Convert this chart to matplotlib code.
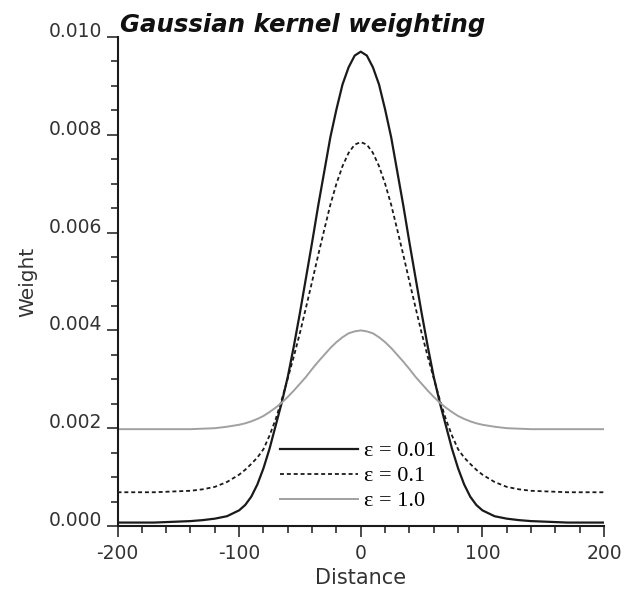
import matplotlib
matplotlib.use("Agg")
import matplotlib.pyplot as plt
from matplotlib.ticker import MultipleLocator, FormatStrFormatter

# values
distance = [-200, -190, -180, -170, -160, -150, -140, -130, -120, -110,
            -100, -95, -90, -85, -80, -75, -70, -65, -60, -55,
            -50, -45, -40, -35, -30, -25, -20, -15, -10, -5,
            0,
            5, 10, 15, 20, 25, 30, 35, 40, 45, 50,
            55, 60, 65, 70, 75, 80, 85, 90, 95, 100,
            110, 120, 130, 140, 150, 160, 170, 180, 190, 200]

weight_eps001 = [0.00007, 0.00007, 0.00007, 0.00007, 0.00008, 0.00009, 0.00010, 0.00012, 0.00015, 0.00020,
                 0.00032, 0.00043, 0.00060, 0.00085, 0.00118, 0.00158, 0.00205, 0.00252, 0.00305, 0.00368,
                 0.00436, 0.00508, 0.00580, 0.00655, 0.00725, 0.00795, 0.00852, 0.00903, 0.00938, 0.00962,
                 0.00970,
                 0.00962, 0.00938, 0.00903, 0.00852, 0.00795, 0.00725, 0.00655, 0.00580, 0.00508, 0.00436,
                 0.00368, 0.00305, 0.00252, 0.00205, 0.00158, 0.00118, 0.00085, 0.00060, 0.00043, 0.00032,
                 0.00020, 0.00015, 0.00012, 0.00010, 0.00009, 0.00008, 0.00007, 0.00007, 0.00007, 0.00007]

weight_eps01 = [0.00069, 0.00069, 0.00069, 0.00069, 0.00070, 0.00071, 0.00072, 0.00075, 0.00080, 0.00090,
                0.00105, 0.00115, 0.00127, 0.00140, 0.00157, 0.00185, 0.00218, 0.00258, 0.00302, 0.00347,
                0.00395, 0.00447, 0.00500, 0.00554, 0.00606, 0.00657, 0.00700, 0.00736, 0.00763, 0.00780,
                0.00785,
                0.00780, 0.00763, 0.00736, 0.00700, 0.00657, 0.00606, 0.00554, 0.00500, 0.00447, 0.00395,
                0.00347, 0.00302, 0.00258, 0.00218, 0.00185, 0.00157, 0.00140, 0.00127, 0.00115, 0.00105,
                0.00090, 0.00080, 0.00075, 0.00072, 0.00071, 0.00070, 0.00069, 0.00069, 0.00069, 0.00069]

weight_eps1 = [0.00198, 0.00198, 0.00198, 0.00198, 0.00198, 0.00198, 0.00198, 0.00199, 0.00200, 0.00203,
               0.00207, 0.00210, 0.00214, 0.00219, 0.00225, 0.00233, 0.00242, 0.00252, 0.00264, 0.00277,
               0.00291, 0.00305, 0.00321, 0.00336, 0.00350, 0.00364, 0.00376, 0.00386, 0.00394, 0.00398,
               0.00400,
               0.00398, 0.00394, 0.00386, 0.00376, 0.00364, 0.00350, 0.00336, 0.00321, 0.00305, 0.00291,
               0.00277, 0.00264, 0.00252, 0.00242, 0.00233, 0.00225, 0.00219, 0.00214, 0.00210, 0.00207,
               0.00203, 0.00200, 0.00199, 0.00198, 0.00198, 0.00198, 0.00198, 0.00198, 0.00198, 0.00198]

labels = ["\u03b5 = 0.01", "\u03b5 = 0.1", "\u03b5 = 1.0"]

plt.rcParams["font.family"] = "DejaVu Sans"
plt.rcParams["axes.unicode_minus"] = False

fig = plt.figure(figsize=(6.26, 5.92), dpi=100)
ax = fig.add_axes([0.1877, 0.1115, 0.7772, 0.826])

ax.plot(distance, weight_eps001, color="#1a1a1a", lw=1.6, label=labels[0])
ax.plot(distance, weight_eps01, color="#1a1a1a", lw=1.3, linestyle=(0, (2.2, 1.6)), label=labels[1])
ax.plot(distance, weight_eps1, color="#a0a0a0", lw=1.4, label=labels[2])

ax.set_xlim(-200, 200)
ax.set_ylim(0, 0.010)
ax.xaxis.set_major_locator(MultipleLocator(100))
ax.xaxis.set_minor_locator(MultipleLocator(20))
ax.yaxis.set_major_locator(MultipleLocator(0.002))
ax.yaxis.set_minor_locator(MultipleLocator(0.0005))
ax.yaxis.set_major_formatter(FormatStrFormatter("%.3f"))

for side in ["top", "right"]:
    ax.spines[side].set_visible(False)
for side in ["left", "bottom"]:
    ax.spines[side].set_linewidth(1.5)
    ax.spines[side].set_color("#1a1a1a")

ax.tick_params(which="major", length=8, width=1.1, color="#1a1a1a",
               labelsize=13.5, labelcolor="#333333")
ax.tick_params(which="minor", length=5, width=1.1, color="#1a1a1a")
ax.tick_params(axis="x", which="major", pad=5)
ax.tick_params(axis="y", which="major", pad=3)
for lab in ax.get_yticklabels():
    lab.set_verticalalignment("baseline")

ax.set_xlabel("Distance", fontsize=15, color="#333333")
ax.set_ylabel("Weight", fontsize=14.5, color="#333333")
ax.xaxis.set_label_coords(0.5, -0.086)
ax.yaxis.set_label_coords(-0.165, 0.5)

fig.text(0.1917, 0.9459, "Gaussian kernel weighting", fontsize=17.6,
         fontweight="bold", fontstyle="italic", va="baseline", color="#111111")

ax.legend(loc="upper left", bbox_to_anchor=(0.334, 0.174), frameon=False,
          prop={"family": "Liberation Serif", "size": 16},
          handlelength=3.5, handletextpad=0.3, labelspacing=0.2,
          borderpad=0, borderaxespad=0)

fig.savefig("out.png", dpi=100)
